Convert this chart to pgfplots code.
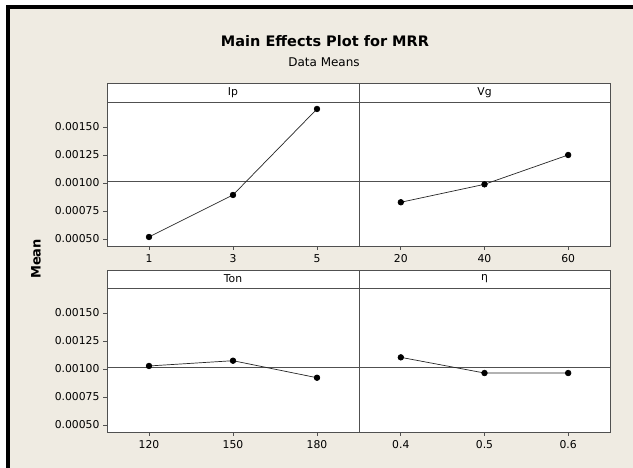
\documentclass[border=0pt]{standalone}
\usepackage{pgfplots}
\pgfplotsset{compat=1.18}
\usepackage{fontspec}
\setmainfont{DejaVu Sans}
\definecolor{bgbeige}{RGB}{239,235,226}
\definecolor{framegray}{RGB}{80,80,80}
\pgfplotstableread{
x y
0 0.000518
1 0.000893
2 0.001661
}\ip
\pgfplotstableread{
x y
0 0.000828
1 0.000988
2 0.001250
}\vg
\pgfplotstableread{
x y
0 0.001027
1 0.001074
2 0.000922
}\ton
\pgfplotstableread{
x y
0 0.001104
1 0.000964
2 0.000964
}\eta
\pgfplotsset{
  mep/.style={
    scale only axis, height=144pt,
    xmin=-0.5, xmax=2.5, ymin=0.0004375, ymax=0.0017232,
    xtick={0,1,2},
    scaled y ticks=false,
    tick align=outside, major tick length=4pt,
    xtick pos=bottom, ytick pos=left,
    axis line style={draw=framegray, line width=0.9pt},
    every tick/.style={draw=framegray, line width=0.8pt},
    axis background/.style={fill=white},
    tick label style={font=\fontsize{10.8}{12}\selectfont, text=black},
    xticklabel style={yshift=-1pt},
    anchor=south west,
    clip=false,
  },
  leftcol/.style={mep, width=252pt,
    ytick={0.0005,0.00075,0.001,0.00125,0.0015},
    yticklabels={0.00050,0.00075,0.00100,0.00125,0.00150}},
  rightcol/.style={mep, width=251pt, ytick=\empty},
  gm/.style={framegray, line width=0.9pt},
  dat/.style={black!85, line width=0.7pt, mark=*, mark size=2.8pt, mark options={fill=black, draw=black, solid}},
}
\begin{document}
\begin{tikzpicture}[x=1pt,y=1pt]
\fill[white] (0,0) rectangle (633,468);
\fill[bgbeige] (10,0) rectangle (633,459);
\fill[black] (6,0) rectangle (10,462.5);
\fill[black] (6,459) rectangle (633,462.5);
\node[font=\bfseries\fontsize{14.5}{17}\selectfont] at (325,427) {Main Effects Plot for MRR};
\node[font=\fontsize{12}{14}\selectfont] at (324,406) {Data Means};
\node[font=\bfseries\fontsize{13}{15}\selectfont, rotate=90] at (36,209) {Mean};
% headers
\draw[framegray, line width=0.9pt, fill=white] (107,366) rectangle (359,385);
\draw[framegray, line width=0.9pt, fill=white] (359,366) rectangle (610,385);
\draw[framegray, line width=0.9pt, fill=white] (107,180) rectangle (359,198);
\draw[framegray, line width=0.9pt, fill=white] (359,180) rectangle (610,198);
\node[font=\fontsize{10.8}{12}\selectfont] at (233,375.5) {Ip};
\node[font=\fontsize{10.8}{12}\selectfont] at (484.5,375.5) {Vg};
\node[font=\fontsize{10.8}{12}\selectfont] at (233,189) {Ton};
\node[font=\fontsize{10.8}{12}\selectfont] at (484.5,189) {η};
% panels
\begin{axis}[leftcol, at={(107pt,222pt)}, xticklabels={1,3,5}]
\addplot[gm] coordinates {(-0.5,0.001015) (2.5,0.001015)};
\addplot[dat] table[x=x,y=y] {\ip};
\end{axis}
\begin{axis}[rightcol, at={(359pt,222pt)}, xticklabels={20,40,60}]
\addplot[gm] coordinates {(-0.5,0.001015) (2.5,0.001015)};
\addplot[dat] table[x=x,y=y] {\vg};
\end{axis}
\begin{axis}[leftcol, at={(107pt,36pt)}, xticklabels={120,150,180}]
\addplot[gm] coordinates {(-0.5,0.001015) (2.5,0.001015)};
\addplot[dat] table[x=x,y=y] {\ton};
\end{axis}
\begin{axis}[rightcol, at={(359pt,36pt)}, xticklabels={0.4,0.5,0.6}]
\addplot[gm] coordinates {(-0.5,0.001015) (2.5,0.001015)};
\addplot[dat] table[x=x,y=y] {\eta};
\end{axis}
\end{tikzpicture}
\end{document}
